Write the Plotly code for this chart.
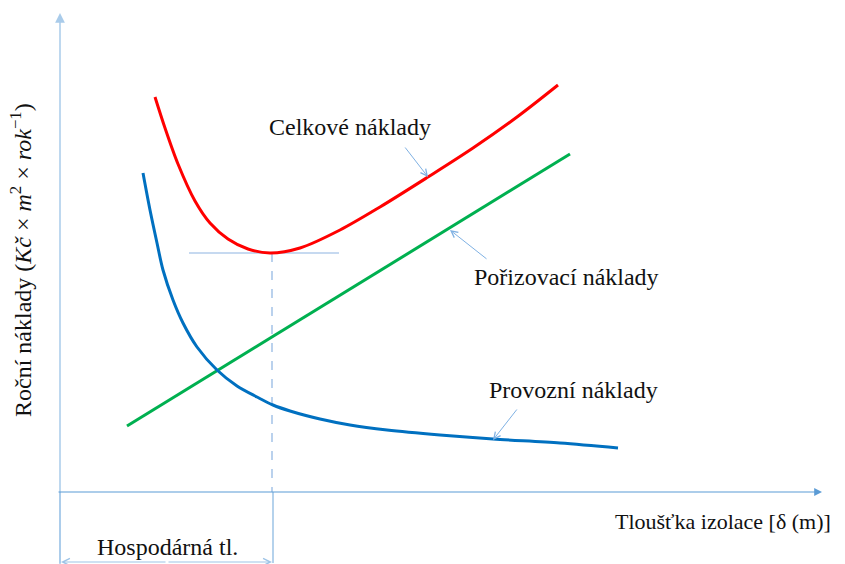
import plotly.graph_objects as go

# Data (conceptual units: origin at the axes' crossing, y upwards)
red_x = [95, 105, 118, 135, 150, 168, 188, 210, 240, 280, 320, 368, 413, 457, 498]
red_y = [395, 364, 328, 291, 269, 253, 243, 239, 244, 262, 285, 315, 344, 375, 407]

green_x = [67, 510]
green_y = [66, 338]

blue_x = [83, 90, 97, 103, 113, 123, 137, 157, 177, 197, 213, 230, 260, 290, 327, 380, 433, 500, 558]
blue_y = [319, 282, 249, 222, 192, 169, 145, 122, 106, 95, 87, 81, 73, 67, 62, 57, 53, 49, 44]

opt_x = 212
opt_y = 239

labels = ["Celkové náklady", "Pořizovací náklady", "Provozní náklady"]

AX = "#5B9BD5"
FONT = "Liberation Serif"

fig = go.Figure()
fig.add_trace(go.Scatter(x=red_x, y=red_y, mode="lines", line=dict(color="#FF0000", width=3, shape="spline", smoothing=0.9), hoverinfo="skip"))
fig.add_trace(go.Scatter(x=green_x, y=green_y, mode="lines", line=dict(color="#00B050", width=3), hoverinfo="skip"))
fig.add_trace(go.Scatter(x=blue_x, y=blue_y, mode="lines", line=dict(color="#0070C0", width=3, shape="spline", smoothing=0.9), hoverinfo="skip"))

shapes = []
# tangent at minimum
shapes.append(dict(type="line", x0=opt_x - 83, x1=opt_x + 67, y0=opt_y, y1=opt_y, line=dict(color="#8DB4E2", width=1.2), layer="below"))
# dashed drop line
shapes.append(dict(type="line", x0=opt_x, x1=opt_x, y0=opt_y, y1=0, line=dict(color="#8DB4E2", width=1.2, dash="dash"), layer="below"))
# bracket verticals
shapes.append(dict(type="line", x0=0, x1=0, y0=0, y1=-71, line=dict(color="#9DC3E6", width=1.5)))
shapes.append(dict(type="line", x0=opt_x + 1, x1=opt_x + 1, y0=0, y1=-71, line=dict(color="#9DC3E6", width=1.5)))

annotations = []
# axes with arrows
annotations.append(dict(x=0, y=479, ax=0, ay=-74, xref="x", yref="y", axref="x", ayref="y", text="", showarrow=True, arrowhead=2, arrowsize=1.3, arrowwidth=1.5, arrowcolor="#A9CBEA"))
annotations.append(dict(x=762, y=0, ax=-3, ay=0, xref="x", yref="y", axref="x", ayref="y", text="", showarrow=True, arrowhead=2, arrowsize=1.3, arrowwidth=1.2, arrowcolor=AX))
# bracket double arrow
annotations.append(dict(x=1, y=-70, ax=107, ay=-70, xref="x", yref="y", axref="x", ayref="y", text="", showarrow=True, arrowhead=5, arrowsize=1.2, arrowwidth=1.2, arrowcolor="#9DC3E6"))
annotations.append(dict(x=212, y=-70, ax=107, ay=-70, xref="x", yref="y", axref="x", ayref="y", text="", showarrow=True, arrowhead=5, arrowsize=1.2, arrowwidth=1.2, arrowcolor="#9DC3E6"))
# label arrows
annotations.append(dict(x=368, y=315, ax=344, ay=346, xref="x", yref="y", axref="x", ayref="y", text="", showarrow=True, arrowhead=5, arrowsize=1.3, arrowwidth=1, arrowcolor="#7FB1E3"))
annotations.append(dict(x=390, y=262, ax=428, ay=232, xref="x", yref="y", axref="x", ayref="y", text="", showarrow=True, arrowhead=5, arrowsize=1.3, arrowwidth=1, arrowcolor="#7FB1E3"))
annotations.append(dict(x=433, y=52, ax=458, ay=84, xref="x", yref="y", axref="x", ayref="y", text="", showarrow=True, arrowhead=5, arrowsize=1.3, arrowwidth=1, arrowcolor="#7FB1E3"))

txt = dict(family=FONT, size=24, color="#111111")
annotations.append(dict(x=290, y=365, text=labels[0], showarrow=False, font=txt, xref="x", yref="y"))
annotations.append(dict(x=506, y=215, text=labels[1], showarrow=False, font=txt, xref="x", yref="y"))
annotations.append(dict(x=513, y=102, text=labels[2], showarrow=False, font=txt, xref="x", yref="y"))
annotations.append(dict(x=107, y=-55, text="Hospodárná tl.", showarrow=False, font=txt, xref="x", yref="y"))
annotations.append(dict(x=773, y=-29, text="Tloušťka izolace [δ (m)]", showarrow=False, font=dict(family=FONT, size=22, color="#111111"), xref="x", yref="y", xanchor="right"))
annotations.append(dict(x=-39, y=232, text="Roční náklady (<i>Kč</i> × <i>m</i><sup>2</sup> × <i>rok</i><sup>−1</sup>)", showarrow=False, font=txt, xref="x", yref="y", textangle=-90))

fig.update_layout(
    width=845, height=564,
    margin=dict(l=0, r=0, t=0, b=0),
    paper_bgcolor="white", plot_bgcolor="white",
    showlegend=False,
    shapes=shapes, annotations=annotations,
    xaxis=dict(range=[-52, 793], visible=False, fixedrange=True),
    yaxis=dict(range=[-80, 484], visible=False, fixedrange=True),
)

fig.write_html("out.html")
